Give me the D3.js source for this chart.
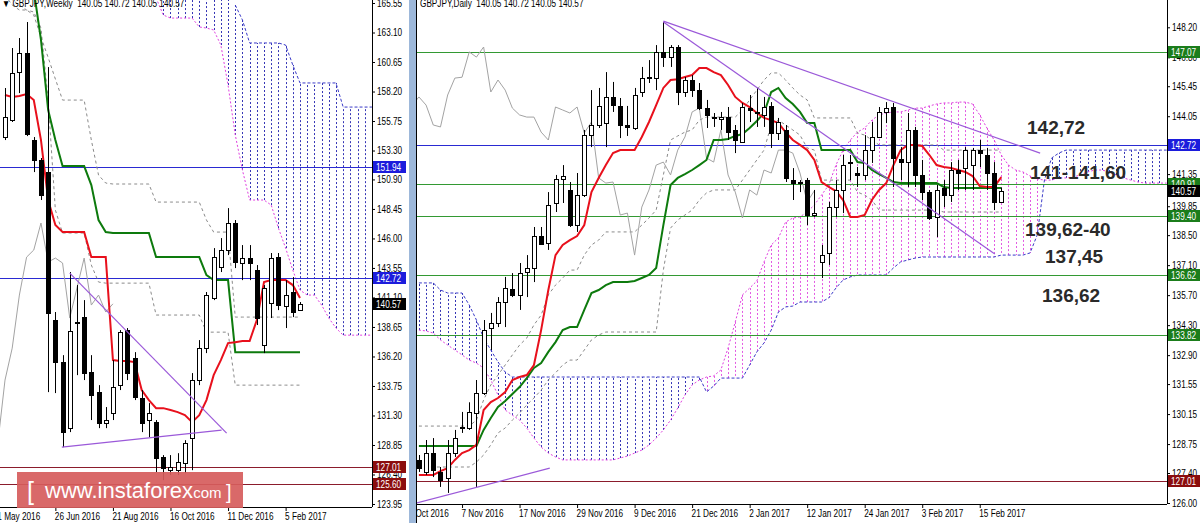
<!DOCTYPE html>
<html><head><meta charset="utf-8">
<script src="https://cdn.jsdelivr.net/npm/d3@7"></script>
<style>
html,body{margin:0;padding:0;background:#fff;overflow:hidden;}
svg{display:block;}
text{font-family:"Liberation Sans",Arial,sans-serif;}
</style></head><body>
<svg id="chart" width="1200" height="523"></svg>
<script>
// ================= WEEKLY (left panel) =================
const weeklyTickIdx = [-1, 7, 15, 23, 31, 39];
const weeklyTickLabels = ['1 May 2016','26 Jun 2016','21 Aug 2016','16 Oct 2016','11 Dec 2016','5 Feb 2017'];
const weeklyPriceTicks = [165.55,163.10,160.65,158.20,155.75,153.30,150.90,148.45,146.00,143.55,141.10,138.65,136.20,133.75,131.30,128.85,126.40,123.95];
const weeklyOpen  = [154.42,155.83,159.82,161.40,154.17,152.51,151.51,139.22,135.73,130.25,139.06,139.47,134.90,133.24,130.67,131.50,133.82,138.39,136.07,132.74,130.92,130.75,127.84,126.76,126.76,127.35,129.42,134.24,136.89,141.05,143.62,145.04,147.28,143.96,144.37,143.37,137.14,140.63,144.45,140.38,141.55,140.05];
const weeklyHigh  = [158.49,161.81,162.64,163.97,154.42,152.68,160.23,139.89,136.31,143.21,142.13,140.88,136.31,133.82,132.00,135.90,138.39,138.56,136.56,133.41,132.33,130.92,128.01,128.01,128.17,129.25,134.82,137.56,141.55,145.20,146.03,148.52,147.53,145.45,145.45,143.79,142.13,144.79,144.79,142.54,142.79,140.72];
const weeklyLow   = [154.17,155.67,158.07,154.50,151.51,149.19,133.24,133.16,128.67,129.92,134.65,134.24,130.92,130.25,130.25,130.92,133.41,134.24,132.58,129.92,129.50,126.60,125.93,126.35,126.35,126.51,126.76,133.82,136.48,140.88,143.21,144.62,143.54,142.54,142.54,138.81,136.48,139.39,140.05,138.56,139.47,140.05];
const weeklyClose = [156.08,159.74,161.40,154.67,152.51,149.60,139.80,135.73,129.92,138.31,139.10,134.82,132.99,130.67,130.92,133.66,138.22,134.82,132.83,130.67,131.50,127.76,126.93,127.01,127.43,129.00,134.24,136.89,141.30,144.45,145.04,147.28,144.04,144.37,143.96,139.39,141.88,144.37,140.47,141.30,139.89,140.57];
const weeklyTenkan = [157.91,157.74,157.83,157.99,157.49,154.17,149.19,147.11,146.53,146.53,146.53,146.53,144.45,144.45,144.45,135.90,135.82,135.82,135.73,133.41,132.58,131.91,131.91,131.75,131.58,131.33,130.75,131.33,132.58,134.65,135.90,137.31,137.39,137.48,137.48,139.22,142.38,142.54,142.54,142.54,142.13,141.05];
const weeklyKijun = [168,168,168,167.5,166.63,162.48,156.66,154.17,152.01,152.01,152.01,152.01,150.43,147.53,146.53,146.45,146.45,146.45,146.45,146.45,146.45,144.45,144.45,144.45,144.45,144.45,144.45,144.45,142.96,142.54,142.54,142.54,136.56,136.56,136.56,136.56,136.56,136.56,136.56,136.56,136.56,136.56];
const weeklyBandUp = [166.21,165.38,164.97,164.97,164.55,162.73,161.02,159.24,157.49,157.49,157.49,157.49,154.17,151.26,150.60,150.52,150.52,150.52,150.52,150.52,150.52,149.02,149.02,149.02,149.02,149.02,149.02,149.02,147.53,146.53,146.53,146.53,139.47,139.47,139.47,139.47,139.47,139.47,139.47,139.47,139.47,139.47];
const weeklyBandDn = [166.21,165.80,165.38,164.97,164.80,163.47,157.49,148.36,146.45,146.45,146.45,146.45,143.79,142.38,142.29,142.29,142.29,142.29,142.29,142.29,142.29,139.64,139.64,139.64,139.64,139.64,139.64,139.64,138.22,138.22,138.22,138.22,133.82,133.82,133.82,133.82,133.82,133.82,133.82,133.82,133.82,133.82];
// cloud (shifted 26 weeks ahead, indices 0..51); null = above the visible range
const weeklySpanA = [null,null,null,null,null,null,null,null,null,null,null,null,null,null,null,null,null,null,null,null,null,165.97,164.55,164.30,164.30,164.30,164.30,163.56,163.47,163.31,162.06,158.74,154.59,151.68,149.19,149.19,149.19,148.77,146.86,145.20,143.37,141.71,141.30,141.30,140.47,139.39,138.56,137.97,137.97,137.97,137.97,137.97];
const weeklySpanB = [null,null,null,null,null,null,null,null,null,null,null,null,null,null,null,null,null,null,null,null,null,null,null,null,null,null,null,null,null,null,null,null,165.38,164.14,162.23,162.23,162.23,162.23,162.23,162.06,160.40,158.91,158.91,158.91,158.91,158.91,158.91,156.91,156.91,156.91,156.91,156.91];
const weeklyTrendlines = [[[9.0,143.12],[30.8,129.84]], [[7.9,128.67],[30.1,130.08]]];
const weeklyLevels = [151.94, 142.72, 127.01, 125.60];
const weeklyLevelKinds = ['blue','blue','red','red'];
const weeklyLast = 140.57;

// ================= DAILY (right panel) =================
const dailyTickIdx = [-2, 6, 14, 22, 30, 38, 46, 54, 62, 70, 78];
const dailyTickLabels = ['26 Oct 2016','7 Nov 2016','17 Nov 2016','29 Nov 2016','9 Dec 2016','21 Dec 2016','2 Jan 2017','12 Jan 2017','24 Jan 2017','3 Feb 2017','15 Feb 2017'];
const dailyPriceTicks = [148.20,146.80,145.45,144.05,141.35,139.85,138.50,137.10,135.70,134.30,132.90,131.55,130.15,128.75,127.40,126.00];
const dailyOpen = [128.01,127.45,128.33,127.45,127.17,128.33,129.50,129.50,130.20,131.13,134.17,134.40,135.38,135.99,135.71,136.78,136.97,138.46,138.13,140.00,141.12,140.61,138.97,140.37,143.17,143.64,143.73,144.95,144.53,143.64,143.50,145.18,145.83,145.83,147.05,146.81,147.28,145.18,145.74,145.27,144.43,143.97,143.92,144.01,143.41,142.85,144.43,144.25,144.11,144.53,143.27,143.41,141.07,140.93,141.07,139.44,137.25,137.67,139.81,140.61,141.87,141.40,141.31,142.47,143.08,144.25,144.48,142.05,141.91,143.41,141.31,140.51,139.35,140.70,140.37,141.54,141.63,141.77,142.47,142.24,141.40,140.05];
const dailyHigh = [128.24,128.94,129.03,127.68,128.94,129.41,130.25,130.70,131.74,134.54,134.87,135.61,136.55,136.73,137.20,137.57,138.88,138.88,140.51,141.31,141.77,140.98,141.40,143.41,145.27,145.37,146.11,145.65,144.90,144.53,145.37,146.35,146.67,147.37,148.45,147.37,147.37,145.88,145.97,145.60,144.81,144.20,144.25,144.48,143.64,144.67,145.04,145.37,144.95,144.71,143.97,143.64,141.63,141.07,141.17,140.61,138.04,140.05,141.07,142.24,142.24,141.68,143.17,143.78,144.48,144.71,144.67,142.61,144.20,143.55,142.01,140.61,140.84,141.07,141.91,142.01,142.61,142.57,142.94,142.57,141.91,140.72];
const dailyLow = [127.45,127.31,127.21,126.75,126.47,128.15,129.27,129.41,126.75,131.04,133.14,134.21,134.21,135.61,135.01,135.61,136.31,138.04,137.81,139.58,140.00,138.88,138.65,140.28,142.61,143.50,142.61,144.25,143.03,143.13,143.41,144.95,145.60,145.27,146.35,146.35,144.57,144.95,144.95,144.34,143.50,143.55,143.41,142.94,142.33,142.80,143.78,143.55,143.55,142.57,142.94,140.98,140.14,140.51,138.97,139.35,136.50,137.11,139.35,139.53,141.07,140.75,141.07,141.87,143.03,143.73,140.75,141.07,140.75,140.75,140.14,139.21,138.41,139.81,140.05,140.61,140.61,140.61,141.68,140.61,139.67,140.05];
const dailyClose = [127.63,128.33,127.54,127.07,128.33,129.03,129.55,130.25,131.13,134.07,134.40,135.38,136.03,135.71,136.73,136.97,138.46,138.09,139.91,141.12,141.26,138.97,140.37,143.17,143.64,144.53,144.95,144.57,143.64,143.55,145.04,145.83,145.87,147.05,146.81,147.28,145.18,145.74,145.27,144.43,144.11,144.01,144.01,143.31,142.94,144.48,144.34,144.20,144.48,143.27,143.78,141.17,140.93,140.98,139.44,139.53,137.57,139.81,140.61,141.77,141.91,141.31,142.47,143.08,144.25,144.43,142.10,141.91,143.41,141.31,140.51,139.30,140.61,140.37,141.54,141.40,142.47,142.47,142.33,141.40,140.05,140.57];
const dailyTenkan = [127.31,127.31,127.31,127.49,127.63,128.01,128.33,128.47,128.71,130.34,130.71,130.90,131.18,131.74,131.88,131.97,132.44,134.07,135.94,137.57,138.04,138.27,138.46,138.97,140.51,141.17,141.77,142.33,142.47,142.47,142.47,143.08,143.78,144.57,145.37,145.74,145.78,145.88,145.97,146.30,146.30,146.11,145.97,145.51,144.95,144.67,144.48,144.20,143.97,143.87,143.73,143.31,142.94,142.71,142.47,142.01,140.98,140.75,140.56,140.14,139.35,139.35,139.44,140.14,140.61,140.93,141.77,142.47,142.71,142.71,142.66,142.24,141.77,141.68,141.63,141.54,141.45,141.26,140.79,140.75,140.75,141.21];
const dailyKijun = [128.66,128.66,128.66,128.66,128.66,128.66,128.66,128.66,128.66,129.41,129.97,130.48,130.76,131.09,131.41,131.83,132.30,132.53,133.05,133.51,134.07,134.21,134.21,135.01,135.80,135.94,136.17,136.31,136.31,136.31,136.36,136.50,136.64,136.97,138.97,140.84,141.17,141.35,141.54,141.77,142.01,142.94,142.94,142.99,143.13,143.22,143.50,143.83,144.20,145.18,145.37,144.90,144.62,144.25,143.73,143.73,142.47,142.47,142.47,142.47,142.47,141.91,141.87,141.54,141.35,141.17,140.98,140.93,140.93,140.93,140.93,140.93,140.93,140.75,140.70,140.70,140.70,140.70,140.70,140.70,140.70,140.70];
const dailyBandUp = [129.59,129.59,129.59,129.59,129.59,129.59,129.59,129.59,129.87,130.81,131.51,131.97,132.44,132.91,133.37,133.70,134.31,134.77,135.71,136.17,136.50,136.87,136.87,137.57,138.04,138.27,138.65,138.65,138.65,138.65,138.65,138.97,139.30,139.67,141.31,142.94,143.13,143.31,143.41,143.87,144.01,144.01,144.01,144.01,144.01,144.34,144.81,145.27,145.74,146.07,146.07,145.74,145.37,145.04,144.81,143.97,143.97,143.97,143.97,143.97,143.97,143.27,143.17,142.94,142.71,142.71,142.71,142.71,142.71,142.71,142.71,142.71,142.71,142.47,142.47,142.47,142.47,142.47,142.47,142.47,142.47,142.47];
const dailyBandDn = [127.68,127.68,127.68,127.68,127.68,127.68,127.68,127.68,127.91,128.24,128.71,129.27,129.50,129.87,130.20,130.57,130.90,131.27,131.74,132.07,132.44,132.67,132.67,133.14,133.61,133.84,133.98,133.98,133.98,133.98,133.98,133.98,133.98,133.98,136.87,138.83,139.21,139.44,139.67,140.14,140.47,140.61,140.61,140.61,140.61,141.07,141.54,142.01,142.47,143.64,143.87,143.64,143.41,143.17,142.57,142.47,141.07,141.07,141.07,141.07,141.07,140.51,140.37,140.14,139.67,139.67,139.67,139.67,139.67,139.67,139.67,139.67,139.67,139.58,139.58,139.58,139.58,139.58,139.58,139.58,139.58,139.58];
// cloud shifted 26 bars ahead (indices 0..104)
const dailySpanA = [134.07,134.03,133.93,133.61,133.37,133.14,132.91,132.67,132.53,132.30,131.74,131.04,130.34,130.10,129.87,129.50,129.03,128.61,128.33,128.15,128.01,128.01,128.01,128.01,128.01,128.01,128.01,128.01,128.10,128.19,128.33,128.47,128.71,129.03,129.41,129.87,130.43,131.04,131.51,131.74,131.88,131.93,132.21,133.23,134.45,135.71,136.03,136.36,137.25,138.04,138.37,139.11,139.30,139.35,139.58,139.91,140.37,140.84,141.77,142.47,142.94,143.31,143.50,143.87,144.11,144.20,144.25,144.25,144.34,144.43,144.43,144.53,144.62,144.67,144.67,144.71,144.71,144.62,144.11,143.50,142.94,142.24,141.77,141.54,141.45,141.26,141.12,141.07,141.07,141.17,141.17,141.21,141.31,141.45,141.54,141.54,141.45,141.31,141.17,141.07,140.98,140.93,140.93,140.93,140.93];
const dailySpanB = [136.27,136.27,136.27,135.94,135.80,135.80,135.80,135.24,134.54,133.70,133.14,132.58,132.11,131.88,131.88,131.88,131.88,131.88,131.88,131.88,131.88,131.88,131.88,131.88,131.88,131.88,131.88,131.88,131.88,131.88,131.88,131.88,131.88,131.88,131.88,131.88,131.88,131.88,131.88,131.88,131.18,131.46,131.83,131.83,131.83,131.83,132.44,133.05,133.47,134.07,134.91,135.15,135.19,135.38,135.38,135.38,135.38,135.57,136.03,136.41,136.55,136.64,136.64,136.64,136.64,136.64,136.97,137.25,137.34,137.43,137.48,137.48,137.48,137.48,137.48,137.48,137.48,137.48,137.48,137.48,137.48,137.57,137.57,137.57,137.57,137.67,138.51,141.07,142.10,142.33,142.47,142.47,142.47,142.47,142.47,142.47,142.47,142.47,142.47,142.47,142.47,142.47,142.47,142.47,142.47];
const dailyTrendlines = [[[34,148.49],[86.4,142.33]], [[34,148.45],[80.1,137.62]], [[-0.3,126.0],[18.2,127.63]]];
const dailyLevels = [147.07, 142.72, 140.91, 139.40, 136.62, 133.82, 127.01];
const dailyLevelKinds = ['green','blue','green','green','green','green','red'];
const dailyLast = 140.57;
const annotations = ['142,72','141-141,60','139,62-40','137,45','136,62'];
const annotationPrices = [143.55, 141.45, 138.80, 137.55, 135.70];
const annotationX = [1027, 1030, 1025, 1045, 1042];

// ================= drawing =================
const svg = d3.select('#chart');
const defs = svg.append('defs');
const lineColor = {green:'#339933', blue:'#2a2ad2', red:'#8b1c2c'};
const boxColor  = {green:'#1b7d1b', blue:'#1c1cdc', red:'#8b0d0d', black:'#000'};
const condensed = [];

function panel(o) {
  const {x, y, left, right, top, bottom, id} = o;
  defs.append('clipPath').attr('id', id).append('rect')
    .attr('x', left).attr('y', top).attr('width', right - left).attr('height', bottom - top);
  defs.append('clipPath').attr('id', id + 'x').append('rect')
    .attr('x', left).attr('y', bottom).attr('width', 1200 - left).attr('height', 30);
  const g = svg.append('g');
  const p = g.append('g').attr('clip-path', `url(#${id})`);
  const yTop = top - 20;
  const yv = v => v == null ? yTop : y(v);

  // cloud hatch
  const n = Math.max(o.spanA.length, o.spanB.length);
  for (let k = 0; k < n; k++) {
    const a = o.spanA[k], b = o.spanB[k];
    if (a == null && b == null) continue;
    const bull = (a != null && b != null && a > b);
    const xx = Math.round(x(k)) + 0.5;
    p.append('line').attr('x1', xx).attr('x2', xx)
      .attr('y1', yv(a)).attr('y2', yv(b))
      .attr('stroke', bull ? '#e35be3' : '#3535b5').attr('stroke-width', 1)
      .attr('stroke-dasharray', '2,2');
  }
  const ln = d3.line().defined(v => v != null).x((v, k) => x(k)).y(v => y(v));
  p.append('path').attr('d', ln(o.spanA)).attr('fill', 'none').attr('stroke', '#e040e0').attr('stroke-dasharray', '2,2');
  p.append('path').attr('d', ln(o.spanB)).attr('fill', 'none').attr('stroke', '#3a3ac8').attr('stroke-dasharray', '3,2');

  // horizontal levels
  o.levels.forEach((v, k) => {
    const yy = Math.round(y(v)) + 0.5;
    p.append('line').attr('x1', left).attr('x2', right).attr('y1', yy).attr('y2', yy)
      .attr('stroke', lineColor[o.levelKinds[k]]).attr('stroke-width', 1);
  });

  // bands
  [o.bandUp, o.bandDn].forEach(arr => {
    p.append('path').attr('d', ln(arr)).attr('fill', 'none').attr('stroke', '#8a8a8a')
      .attr('stroke-width', 1).attr('stroke-dasharray', '3,3');
  });
  // chikou: close shifted back 26 bars
  const chik = o.close.map((c, k) => [k - 26, c]).filter(d => d[0] >= -2);
  p.append('path').attr('d', d3.line().x(d => x(d[0])).y(d => y(d[1]))(chik))
    .attr('fill', 'none').attr('stroke', '#a3a3a3').attr('stroke-width', 1);
  // kijun, tenkan
  p.append('path').attr('d', ln(o.kijun)).attr('fill', 'none').attr('stroke', '#0d7a0d').attr('stroke-width', 2);
  p.append('path').attr('d', ln(o.tenkan)).attr('fill', 'none').attr('stroke', '#e8101c').attr('stroke-width', 2);

  // candles
  const bw = o.bw;
  o.open.forEach((op, k) => {
    const cx = Math.round(x(k)) + 0.5;
    const hi = o.high[k], lo = o.low[k], cl = o.close[k];
    p.append('line').attr('x1', cx).attr('x2', cx).attr('y1', y(hi)).attr('y2', y(lo))
      .attr('stroke', '#000').attr('stroke-width', 1);
    const yt = Math.round(y(Math.max(op, cl))) + 0.5, yb = Math.round(y(Math.min(op, cl))) + 0.5;
    p.append('rect').attr('x', cx - bw / 2).attr('y', yt).attr('width', bw)
      .attr('height', Math.max(1, yb - yt))
      .attr('fill', cl >= op ? '#fff' : '#000').attr('stroke', '#000').attr('stroke-width', 1);
  });

  // trend lines
  o.trend.forEach(t => {
    p.append('line').attr('x1', x(t[0][0])).attr('y1', y(t[0][1]))
      .attr('x2', x(t[1][0])).attr('y2', y(t[1][1]))
      .attr('stroke', '#9b59d9').attr('stroke-width', 1.2);
  });

  // axes
  const ay = d3.axisRight(y).tickValues(o.priceTicks).tickFormat(d3.format('.2f')).tickSize(3).tickPadding(2);
  const gy = g.append('g').attr('transform', `translate(${right},0)`).call(ay);
  gy.select('.domain').attr('d', `M0.5,${top}V${bottom}`).attr('stroke', '#000');
  gy.selectAll('text').attr('font-size', 10).attr('fill', '#000').each(function(){ condensed.push(this); });
  const ax = d3.axisBottom(x).tickValues(o.tickIdx).tickFormat((d, k) => o.tickLabels[k]).tickSize(4).tickPadding(2);
  const gxWrap = g.append('g').attr('clip-path', `url(#${id}x)`);
  const gx = gxWrap.append('g').attr('transform', `translate(0,${bottom})`).call(ax);
  gx.select('.domain').attr('d', `M${left},0.5H${right}`).attr('stroke', '#000');
  gx.selectAll('text').attr('font-size', 10).attr('fill', '#000').attr('text-anchor', 'start').attr('dx', -1)
    .each(function(){ condensed.push(this); });

  // level boxes
  const boxes = o.levels.map((v, k) => [v, o.levelKinds[k]]).concat([[o.last, 'black']]);
  boxes.forEach(([v, kind]) => {
    const yy = Math.round(y(v));
    g.append('rect').attr('x', right + 1).attr('y', yy - 6).attr('width', 33).attr('height', 12).attr('fill', boxColor[kind]);
    const t = g.append('text').attr('x', right + 4).attr('y', yy + 4).attr('font-size', 10).attr('fill', '#fff').text(v.toFixed(2));
    condensed.push(t.node());
  });

  // header
  const h = g.append('text').attr('x', o.headerX).attr('y', 7).attr('font-size', 10).attr('fill', '#000')
    .style('white-space', 'pre').text(o.header);
  condensed.push(h.node());
  return g;
}

const xL = d3.scaleLinear().domain([0, 41]).range([5, 300]);
const yL = d3.scaleLinear().domain([123.95, 165.55]).range([504, 3]);
panel({x: xL, y: yL, left: 0, right: 372, top: 0, bottom: 507, id: 'clipL', bw: 4,
  open: weeklyOpen, high: weeklyHigh, low: weeklyLow, close: weeklyClose,
  tenkan: weeklyTenkan, kijun: weeklyKijun, bandUp: weeklyBandUp, bandDn: weeklyBandDn,
  spanA: weeklySpanA, spanB: weeklySpanB, trend: weeklyTrendlines,
  levels: weeklyLevels, levelKinds: weeklyLevelKinds, last: weeklyLast,
  priceTicks: weeklyPriceTicks, tickIdx: weeklyTickIdx, tickLabels: weeklyTickLabels,
  header: '\u25BC GBPJPY,Weekly  140.05 140.72 140.05 140.57', headerX: 2});

const xR = d3.scaleLinear().domain([0, 81]).range([418.9, 1001.3]);
const yR = d3.scaleLinear().domain([126, 148.2]).range([503, 27.3]);
const gR = panel({x: xR, y: yR, left: 417, right: 1167, top: 0, bottom: 504, id: 'clipR', bw: 4,
  open: dailyOpen, high: dailyHigh, low: dailyLow, close: dailyClose,
  tenkan: dailyTenkan, kijun: dailyKijun, bandUp: dailyBandUp, bandDn: dailyBandDn,
  spanA: dailySpanA, spanB: dailySpanB, trend: dailyTrendlines,
  levels: dailyLevels, levelKinds: dailyLevelKinds, last: dailyLast,
  priceTicks: dailyPriceTicks, tickIdx: dailyTickIdx, tickLabels: dailyTickLabels,
  header: 'GBPJPY,Daily  140.05 140.72 140.05 140.57', headerX: 420});

// condense the small chart texts (the original uses a narrow UI font)
condensed.forEach(node => {
  const w = node.getComputedTextLength();
  node.setAttribute('textLength', (w * 0.82).toFixed(1));
  node.setAttribute('lengthAdjust', 'spacingAndGlyphs');
});

// annotations
annotations.forEach((t, k) => {
  gR.append('text').attr('x', annotationX[k]).attr('y', yR(annotationPrices[k]) + 7)
    .attr('font-family', '"Liberation Serif","Times New Roman",serif').attr('font-weight', 'bold')
    .attr('font-size', 19).attr('fill', '#2a2a2a').text(t);
});

// window border between panels
svg.append('rect').attr('x', 409).attr('y', 0).attr('width', 7).attr('height', 523).attr('fill', '#9db8da');
svg.append('line').attr('x1', 416.5).attr('x2', 416.5).attr('y1', 0).attr('y2', 523).attr('stroke', '#000');

// logo
const logo = svg.append('g');
logo.append('rect').attr('x', 17).attr('y', 472).attr('width', 226).attr('height', 36).attr('fill', '#d65c5c').attr('opacity', 0.92);
logo.append('text').attr('x', 27).attr('y', 500).attr('font-size', 25).attr('fill', '#fff').text('[');
logo.append('text').attr('x', 45).attr('y', 498).attr('font-size', 22).attr('fill', '#fff').text('www.instaforex');
logo.append('text').attr('x', 189).attr('y', 498).attr('font-size', 15).attr('fill', '#fff').text('.com');
logo.append('text').attr('x', 226).attr('y', 499).attr('font-size', 20).attr('fill', '#fff').text(']');
</script></body></html>
